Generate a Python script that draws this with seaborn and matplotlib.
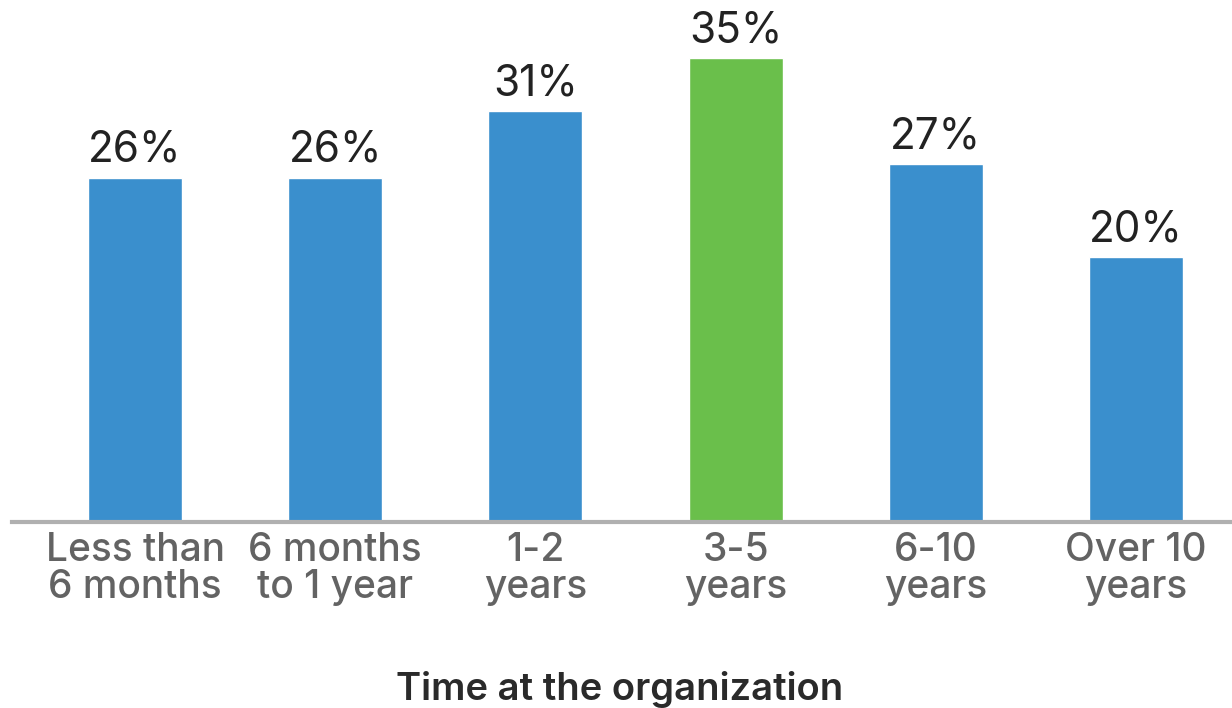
import matplotlib
matplotlib.use("Agg")
import matplotlib.pyplot as plt
import seaborn as sns
import pandas as pd

categories = ["Less than\n6 months", "6 months\nto 1 year", "1-2\nyears", "3-5\nyears", "6-10\nyears", "Over 10\nyears"]
values = [26, 26, 31, 35, 27, 20]
colors = ["#3a8fcd", "#3a8fcd", "#3a8fcd", "#6abf4b", "#3a8fcd", "#3a8fcd"]

sns.set_theme(style="white")
plt.rcParams["font.family"] = ["Inter", "DejaVu Sans"]

df = pd.DataFrame({"cat": categories, "val": values})

fig = plt.figure(figsize=(12.32, 7.08), dpi=100)
ax = fig.add_axes([12/1232, 186/708, 1 - 12/1232, 522/708])
sns.barplot(data=df, x="cat", y="val", hue="cat", palette=colors, legend=False,
            width=0.47, ax=ax, saturation=1)

ax.set_xlim(-0.615, 5.48)
ax.set_ylim(0, 39.4)
for s in ["top", "right", "left"]:
    ax.spines[s].set_visible(False)
ax.spines["bottom"].set_color("#b0b0b0")
ax.spines["bottom"].set_linewidth(3)
ax.set_yticks([])
ax.set_ylabel("")
ax.set_xlabel("")
ax.tick_params(axis="x", length=0, pad=7, labelsize=28, labelcolor="#636363")
for lbl in ax.get_xticklabels():
    lbl.set_linespacing(1.02)
    lbl.set_fontweight("medium")

for i, v in enumerate(values):
    ax.text(i, v + 0.5, f"{v}%", ha="center", va="bottom", fontsize=30.5, color="#222222")

fig.text(0.503, 1 - 690/708, "Time at the organization", ha="center", va="center",
         fontsize=27.5, color="#2a2a2a", fontweight="semibold")

fig.savefig("out.png", dpi=100, facecolor="white")
